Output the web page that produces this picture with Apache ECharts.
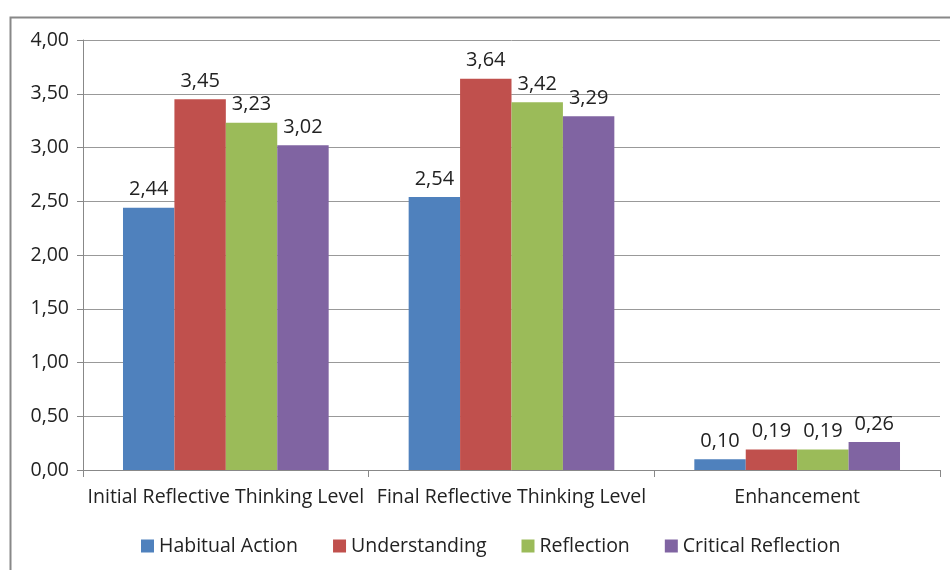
<!DOCTYPE html>
<html><head><meta charset="utf-8">
<script src="https://cdn.jsdelivr.net/npm/echarts@6/dist/echarts.min.js"></script>
<style>html,body{margin:0;padding:0;background:#fff}#c{width:950px;height:570px}</style>
</head><body><div id="c"></div>
<script>
const categories = ['Initial Reflective Thinking Level', 'Final Reflective Thinking Level', 'Enhancement'];
const seriesNames = ['Habitual Action', 'Understanding', 'Reflection', 'Critical Reflection'];
const habitual = [2.44, 2.54, 0.10];
const understanding = [3.45, 3.64, 0.19];
const reflection = [3.23, 3.42, 0.19];
const critical = [3.02, 3.29, 0.26];
const colors = ['#4f81bd', '#c0504d', '#9bbb59', '#8064a2'];
const FONT = '"Open Sans", "DejaVu Sans", sans-serif';
const fmt = v => v.toFixed(2).replace('.', ',');

const chart = echarts.init(document.getElementById('c'), null, {renderer: 'canvas'});
const values = [habitual, understanding, reflection, critical];
chart.setOption({
  animation: false,
  textStyle: {fontFamily: FONT},
  graphic: [{type: 'rect', left: 8, top: 15, shape: {width: 1000, height: 600}, style: {fill: 'none', stroke: '#888', lineWidth: 2}, z: -1}],
  grid: {left: 83, right: 10, top: 40, bottom: 100},
  legend: {
    bottom: 9, left: 136, itemWidth: 13, itemHeight: 13, itemGap: 35,
    icon: 'rect', textStyle: {fontSize: 19.5, color: '#222', fontFamily: FONT}
  },
  xAxis: {
    type: 'category', data: categories,
    axisLine: {lineStyle: {color: '#888'}},
    axisTick: {show: true, length: 7, lineStyle: {color: '#888'}},
    axisLabel: {fontSize: 19.5, color: '#222', margin: 17, interval: 0}
  },
  yAxis: {
    type: 'value', min: 0, max: 4, interval: 0.5,
    axisLine: {show: true, lineStyle: {color: '#888'}},
    axisTick: {show: true, length: 6, lineStyle: {color: '#888'}},
    splitLine: {lineStyle: {color: '#999'}},
    axisLabel: {fontSize: 19.5, color: '#222', margin: 14, formatter: fmt}
  },
  series: seriesNames.map((n, i) => ({
    name: n, type: 'bar', data: values[i],
    barGap: '0%', barCategoryGap: '28%',
    itemStyle: {color: colors[i]},
    label: {show: true, position: 'top', distance: 8, fontSize: 20, color: '#222', formatter: p => fmt(p.value)}
  }))
});
</script></body></html>
